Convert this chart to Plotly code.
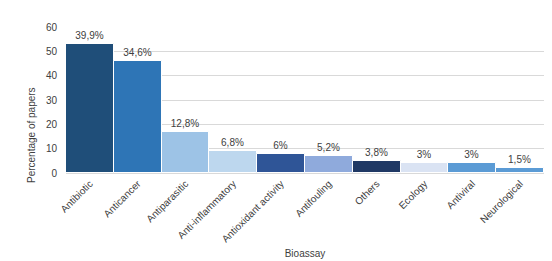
import plotly.graph_objects as go

categories = ["Antibiotic", "Anticancer", "Antiparasitic", "Anti-inflammatory",
              "Antioxidant activity", "Antifouling", "Others", "Ecology",
              "Antiviral", "Neurological"]
values = [53, 46, 17, 9, 8, 7, 5, 4, 4, 2]
labels = ["39,9%", "34,6%", "12,8%", "6,8%", "6%", "5,2%", "3,8%", "3%", "3%", "1,5%"]
colors = ["#1f4e79", "#2e75b6", "#9dc3e6", "#bdd7ee", "#2f5597",
          "#8faadc", "#1f3864", "#dae3f3", "#5b9bd5", "#5b9bd5"]

fig = go.Figure(go.Bar(
    x=categories, y=values, text=labels, textposition="outside",
    textfont=dict(size=10, color="#404040"),
    marker=dict(color=colors, line=dict(color="white", width=1)),
    cliponaxis=False,
))

fig.update_layout(
    width=544, height=253,
    margin=dict(l=58, r=8, t=19, b=88),
    paper_bgcolor="white", plot_bgcolor="white",
    font=dict(family="Liberation Sans, Arial, sans-serif", size=10, color="#404040"),
    bargap=0, showlegend=False,
)
fig.add_annotation(
    text="Percentage of papers", textangle=-90,
    xref="paper", yref="paper", x=0, y=0.26,
    xanchor="center", yanchor="middle", xshift=-35, showarrow=False,
    font=dict(size=10, color="#404040"),
)
fig.update_xaxes(
    tickangle=-45, tickfont=dict(size=10, color="#404040"),
    showgrid=False, showline=True, linecolor="#d9d9d9",
    title=dict(text="Bioassay", font=dict(size=10), standoff=6),
    automargin=False,
)
fig.update_yaxes(
    range=[0, 60], dtick=10, showgrid=True, gridcolor="#d9d9d9",
    zeroline=False, tickfont=dict(size=10, color="#404040"),
    ticks="", ticklabelstandoff=8,
    automargin=False,
)
fig.write_html("out.html")
